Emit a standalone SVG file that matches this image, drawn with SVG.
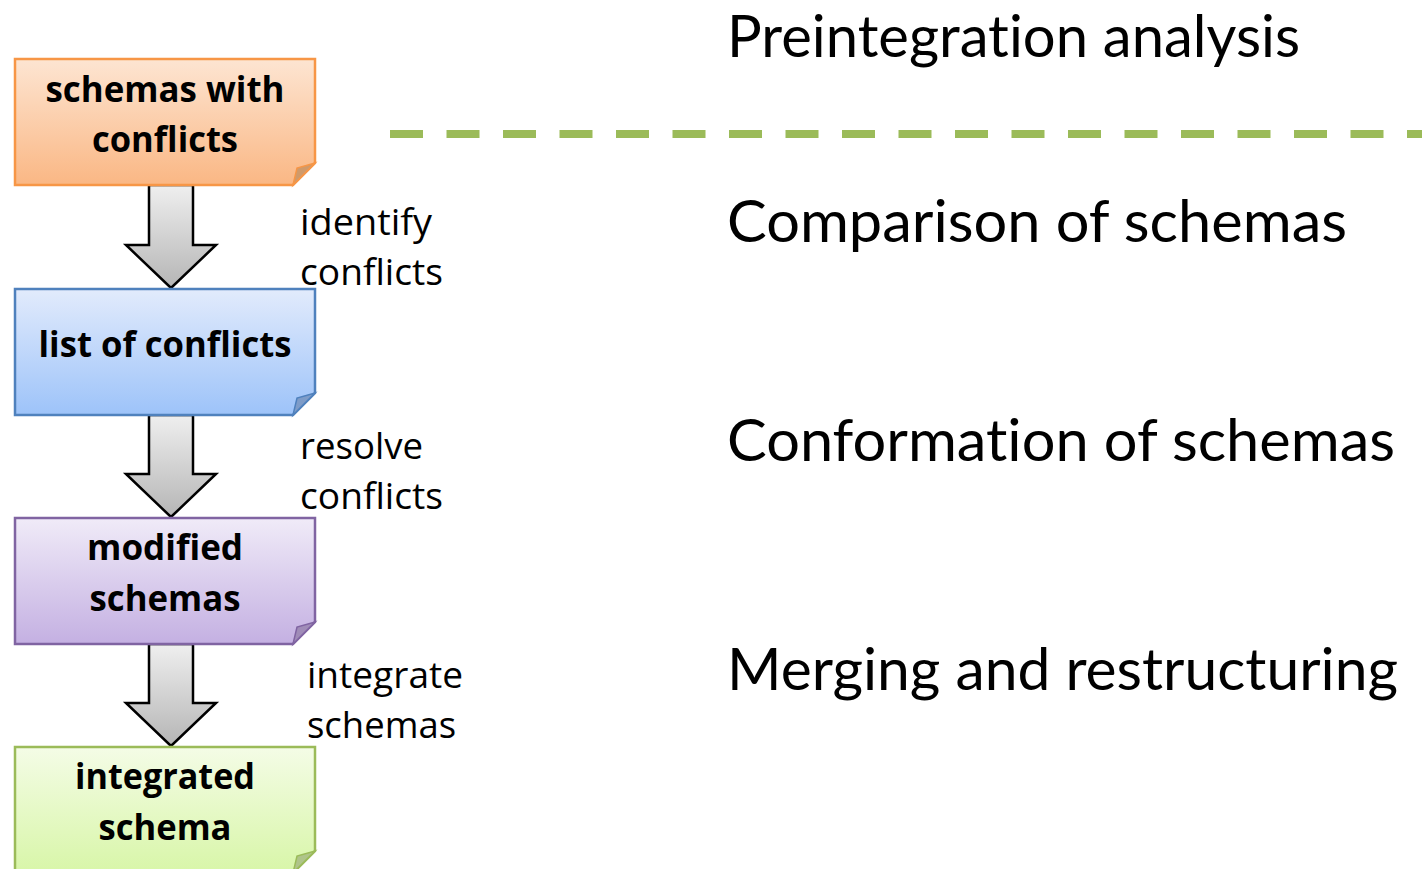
<svg xmlns="http://www.w3.org/2000/svg" width="1422" height="869" viewBox="0 0 1422 869">
<style>
text{font-variant-ligatures:none;font-feature-settings:"liga" 0,"clig" 0}
.box{stroke-width:2.5}
.boxtxt{font-family:"Open Sans","Liberation Sans",sans-serif;font-weight:bold;font-size:36px;fill:#000;text-anchor:middle}
.side{font-family:"Open Sans","Liberation Sans",sans-serif;font-size:36px;fill:#000}
.head{font-family:"Lato","Liberation Sans",sans-serif;font-size:59px;fill:#000}
.arrow{fill:url(#gGray);stroke:#000;stroke-width:2.5;stroke-linejoin:miter}
</style>
<defs>
<linearGradient id="gOrange" x1="0" y1="0" x2="0" y2="1"><stop offset="0" stop-color="#FDE5D2"/><stop offset="1" stop-color="#FAB784"/></linearGradient>
<linearGradient id="gBlue" x1="0" y1="0" x2="0" y2="1"><stop offset="0" stop-color="#E2EBFC"/><stop offset="1" stop-color="#9DC3F9"/></linearGradient>
<linearGradient id="gPurple" x1="0" y1="0" x2="0" y2="1"><stop offset="0" stop-color="#F0EBF8"/><stop offset="1" stop-color="#C4B0E2"/></linearGradient>
<linearGradient id="gGreen" x1="0" y1="0" x2="0" y2="1"><stop offset="0" stop-color="#F4FCE6"/><stop offset="1" stop-color="#D8F6A8"/></linearGradient>
<linearGradient id="gGray" x1="0" y1="0" x2="0" y2="1"><stop offset="0" stop-color="#EFEFEF"/><stop offset="1" stop-color="#B5B5B5"/></linearGradient>
</defs>

<g id="divider">
<line x1="390" y1="134" x2="1422" y2="134" stroke="#9BBB59" stroke-width="8" stroke-dasharray="33 23.5"/>
</g>

<g id="connectors">
<path class="arrow" d="M149,185 H193 V245 H216 L171,288 L126,245 H149 Z"/>
<path class="arrow" d="M149,415 H193 V474 H216 L171,517 L126,474 H149 Z"/>
<path class="arrow" d="M149,644 H193 V703 H216 L171,746 L126,703 H149 Z"/>
</g>

<g id="node-schemas-with-conflicts">
<path class="box" d="M15,59 H315 V163 L293,185 H15 Z" fill="url(#gOrange)" stroke="#F79646"/>
<path d="M293,185 L297,168 L315,163 Z" fill="#D09A6A" stroke="#F79646" stroke-width="1.5"/>
<text class="boxtxt" x="165" y="102" textLength="239" lengthAdjust="spacingAndGlyphs">schemas with</text>
<text class="boxtxt" x="165" y="152" textLength="146" lengthAdjust="spacingAndGlyphs">conflicts</text>
</g>

<g id="node-list-of-conflicts">
<path class="box" d="M15,289 H315 V393 L293,415 H15 Z" fill="url(#gBlue)" stroke="#4F81BD"/>
<path d="M293,415 L297,398 L315,393 Z" fill="#7E9CC8" stroke="#4F81BD" stroke-width="1.5"/>
<text class="boxtxt" x="165" y="357" textLength="253" lengthAdjust="spacingAndGlyphs">list of conflicts</text>
</g>

<g id="node-modified-schemas">
<path class="box" d="M15,518 H315 V622 L293,644 H15 Z" fill="url(#gPurple)" stroke="#8064A2"/>
<path d="M293,644 L297,627 L315,622 Z" fill="#A08CB8" stroke="#8064A2" stroke-width="1.5"/>
<text class="boxtxt" x="165" y="560" textLength="156" lengthAdjust="spacingAndGlyphs">modified</text>
<text class="boxtxt" x="165" y="611" textLength="151" lengthAdjust="spacingAndGlyphs">schemas</text>
</g>

<g id="node-integrated-schema">
<path class="box" d="M15,747 H315 V851 L293,873 H15 Z" fill="url(#gGreen)" stroke="#9BBB59"/>
<path d="M293,873 L297,856 L315,851 Z" fill="#AFC48A" stroke="#9BBB59" stroke-width="1.5"/>
<text class="boxtxt" x="165" y="789" textLength="180" lengthAdjust="spacingAndGlyphs">integrated</text>
<text class="boxtxt" x="165" y="840" textLength="133" lengthAdjust="spacingAndGlyphs">schema</text>
</g>

<g id="labels">
<text class="side" x="300" y="235" textLength="132" lengthAdjust="spacingAndGlyphs">identify</text>
<text class="side" x="300" y="285" textLength="143" lengthAdjust="spacingAndGlyphs">conflicts</text>
<text class="side" x="300" y="459" textLength="123" lengthAdjust="spacingAndGlyphs">resolve</text>
<text class="side" x="300" y="509" textLength="143" lengthAdjust="spacingAndGlyphs">conflicts</text>
<text class="side" x="307" y="688" textLength="156" lengthAdjust="spacingAndGlyphs">integrate</text>
<text class="side" x="307" y="738" textLength="149" lengthAdjust="spacingAndGlyphs">schemas</text>
</g>

<g id="headings">
<text class="head" x="727" y="57" textLength="573" lengthAdjust="spacingAndGlyphs">Preintegration analysis</text>
<text class="head" x="727" y="242" textLength="620" lengthAdjust="spacingAndGlyphs">Comparison of schemas</text>
<text class="head" x="727" y="461" textLength="668" lengthAdjust="spacingAndGlyphs">Conformation of schemas</text>
<text class="head" x="727" y="690" textLength="671" lengthAdjust="spacingAndGlyphs">Merging and restructuring</text>
</g>
</svg>
